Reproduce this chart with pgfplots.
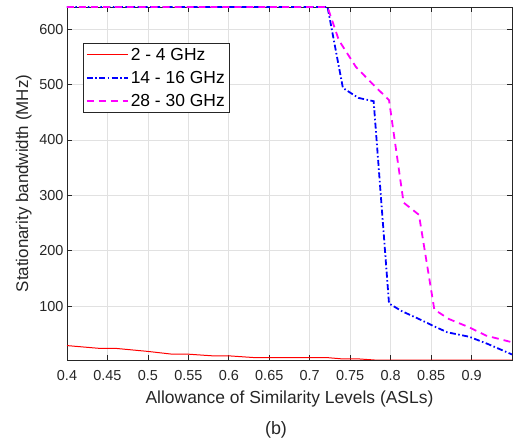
\documentclass[border=0pt]{standalone}
\usepackage{fontspec}
\setmainfont{Liberation Sans}
\usepackage{pgfplots}
\pgfplotsset{compat=1.18}
\definecolor{axgray}{RGB}{38,38,38}
\definecolor{gridgray}{RGB}{225,225,225}
\definecolor{mag}{RGB}{255,0,255}
\definecolor{blu}{RGB}{0,0,255}
\definecolor{rd}{RGB}{255,0,0}
\begin{document}
\begin{tikzpicture}
\begin{axis}[
  at={(0,0)}, anchor=south west,
  scale only axis, width=445bp, height=353bp,
  xmin=0.4, xmax=0.95, ymin=3, ymax=640,
  xtick={0.4,0.45,0.5,0.55,0.6,0.65,0.7,0.75,0.8,0.85,0.9},
  ytick={100,200,300,400,500,600},
  xticklabels={0.4,0.45,0.5,0.55,0.6,0.65,0.7,0.75,0.8,0.85,0.9},
  /pgf/number format/assume math mode=true,
  tick label style={font=\fontsize{14.5}{16}\selectfont, text=axgray},
  xticklabel style={yshift=-7bp},
  xlabel={Allowance of Similarity Levels (ASLs)},
  ylabel={Stationarity bandwidth (MHz)},
  xlabel style={font=\fontsize{17.5}{20}\selectfont, text=axgray, yshift=-3bp},
  ylabel style={font=\fontsize{17}{20}\selectfont, text=axgray, yshift=1bp},
  grid=major, major grid style={gridgray, line width=0.7pt},
  axis line style={axgray, line width=0.7pt},
  tick style={axgray, line width=0.7pt},
  tick align=inside, major tick length=5bp,
  xtick pos=both, ytick pos=both,
  legend style={at={(0.036,0.898)}, anchor=north west, draw=axgray, line width=0.7pt,
    font=\fontsize{17.5}{20}\selectfont, inner sep=2.5bp, row sep=5.5bp, cells={anchor=west}},
  legend cell align=left,
  legend image code/.code={\draw[#1] (0cm,0cm) -- (1.45cm,0cm);},
]
\addplot[rd, line width=1pt] coordinates {
(0.4,29) (0.44,24) (0.46,24) (0.5,18.5) (0.53,13.5) (0.55,13.5) (0.58,10.5) (0.6,10.5)
(0.63,7.5) (0.72,7.5) (0.74,5) (0.76,5) (0.78,3) (0.95,3)};
\addlegendentry{2 - 4 GHz}
\addplot[blu, line width=1.8pt, dash pattern=on 6pt off 2.5pt on 1.5pt off 2.5pt] coordinates {
(0.4,640) (0.722,640) (0.741,494) (0.76,476) (0.779,470) (0.798,105) (0.814,91)
(0.835,77) (0.852,65) (0.87,53) (0.897,45) (0.92,32) (0.95,13)};
\addlegendentry{14 - 16 GHz}
\addplot[mag, line width=1.8pt, dash pattern=on 7pt off 5pt] coordinates {
(0.4,640) (0.722,640) (0.736,580) (0.757,532) (0.777,502) (0.798,472) (0.816,287)
(0.835,265) (0.854,94) (0.872,77) (0.897,62) (0.918,47) (0.95,35)};
\addlegendentry{28 - 30 GHz}
\end{axis}
\node[font=\fontsize{18}{20}\selectfont, text=axgray] at (209bp,-70bp) {(b)};
\pgfresetboundingbox
\path (-67bp,-85bp) rectangle (459bp,360bp);
\end{tikzpicture}
\end{document}
